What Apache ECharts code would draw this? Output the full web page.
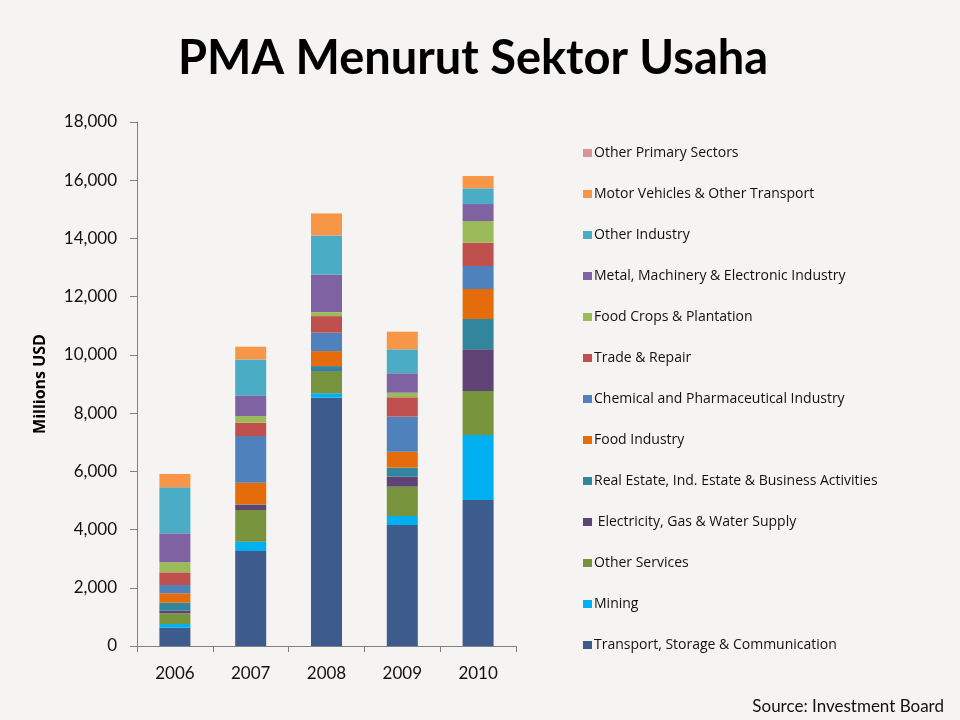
<!DOCTYPE html>
<html><head><meta charset="utf-8">
<script src="https://cdn.jsdelivr.net/npm/echarts@6/dist/echarts.min.js"></script>
<style>html,body{margin:0;padding:0;background:#F5F4F2;}#c{width:960px;height:720px;}</style>
</head><body><div id="c"></div>
<script>
const years = ['2006','2007','2008','2009','2010'];
const seriesNames = [
  'Transport, Storage & Communication',
  'Mining',
  'Other Services',
  ' Electricity, Gas & Water Supply',
  'Real Estate, Ind. Estate & Business Activities',
  'Food Industry',
  'Chemical and Pharmaceutical Industry',
  'Trade & Repair',
  'Food Crops & Plantation',
  'Metal, Machinery & Electronic Industry',
  'Other Industry',
  'Motor Vehicles & Other Transport',
  'Other Primary Sectors'
];
const transport = [629, 3263, 8530, 4157, 5015];
const mining = [127, 320, 151, 309, 2233];
const otherServices = [367, 1089, 742, 1007, 1511];
const electricity = [89, 172, 20, 344, 1432];
const realEstate = [275, 20, 172, 309, 1041];
const foodIndustry = [323, 745, 515, 550, 1031];
const chemical = [285, 1601, 632, 1202, 790];
const trade = [436, 460, 570, 666, 800];
const foodCrops = [344, 227, 137, 158, 745];
const metal = [996, 711, 1295, 666, 584];
const otherIndustry = [1580, 1237, 1340, 824, 539];
const motor = [457, 436, 756, 605, 423];
const otherPrimary = [0, 0, 0, 0, 0];
const yTicks = [0, 2000, 4000, 6000, 8000, 10000, 12000, 14000, 16000, 18000];

const values = [transport, mining, otherServices, electricity, realEstate, foodIndustry,
  chemical, trade, foodCrops, metal, otherIndustry, motor, otherPrimary];
const colors = ['#3D5C8D','#00B0F0','#77933C','#5F4374','#31859C','#E46C0A',
  '#4F81BD','#C0504D','#9BBB59','#7F62A1','#4BACC6','#F79646','#D99694'];

const chart = echarts.init(document.getElementById('c'));
chart.setOption({
  backgroundColor: '#F5F4F2',
  animation: false,
  title: [{
    text: 'PMA Menurut Sektor Usaha', left: 468, top: 30, textAlign: 'center',
    textStyle: {fontFamily: 'Lato', fontSize: 47, fontWeight: 'bold', color: '#000'}
  }, {
    text: 'Source: Investment Board', right: 11, top: 693,
    textStyle: {fontFamily: 'Lato', fontSize: 17, fontWeight: 'normal', color: '#111'}
  }],
  legend: {
    orient: 'vertical', left: 578, top: 141, itemWidth: 9, itemHeight: 8, itemGap: 27,
    icon: 'rect', data: seriesNames.slice().reverse(),
    textStyle: {fontFamily: 'Open Sans', fontSize: 14, color: '#111', lineHeight: 14, padding: [0,0,0,-3]}
  },
  grid: {left: 137, right: 444, top: 122, bottom: 74},
  xAxis: {
    type: 'category', data: years,
    axisLine: {lineStyle: {color: '#808080'}},
    axisTick: {show: true, length: 6, lineStyle: {color: '#808080'}},
    axisLabel: {fontFamily: 'Lato', fontSize: 17, color: '#111', margin: 19}
  },
  yAxis: {
    type: 'value', min: yTicks[0], max: yTicks[yTicks.length-1], interval: 2000,
    name: 'Millions USD', nameLocation: 'middle', nameGap: 89, nameRotate: 90,
    nameTextStyle: {fontFamily: 'Open Sans', fontSize: 16, fontWeight: 'bold', color: '#000'},
    axisLine: {show: true, lineStyle: {color: '#808080'}},
    axisTick: {show: true, length: 7, lineStyle: {color: '#808080'}},
    splitLine: {show: false},
    axisLabel: {fontFamily: 'Lato', fontSize: 17, color: '#111', margin: 20,
      formatter: v => v.toLocaleString('en-US')}
  },
  series: seriesNames.map((n, i) => ({
    name: n, type: 'bar', stack: 'total', data: values[i], barWidth: 31,
    itemStyle: {color: colors[i]}
  }))
});
</script></body></html>
